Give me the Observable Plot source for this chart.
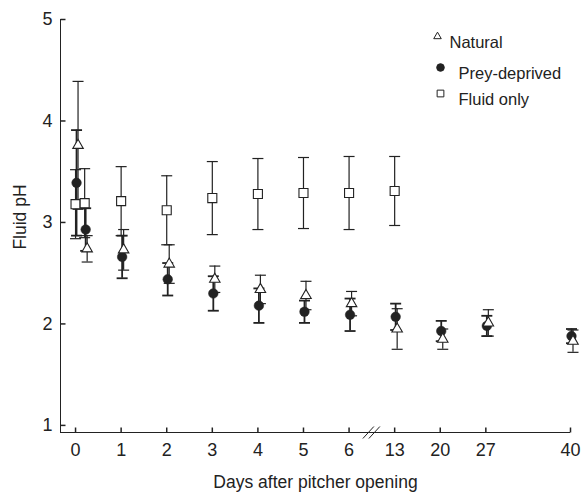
<!DOCTYPE html>
<html>
<head>
<meta charset="utf-8">
<script src="https://cdn.jsdelivr.net/npm/d3@7"></script>
<script src="https://cdn.jsdelivr.net/npm/@observablehq/plot@0.6"></script>
<style>
  html, body { margin: 0; padding: 0; background: #fff; }
  #chart { width: 583px; height: 498px; }
</style>
</head>
<body>
<div id="chart"></div>
<script>
// ---- data ----
const days = [0, 0.2, 1, 2, 3, 4, 5, 6, 13, 20, 27, 40];
const naturalMean = [3.76, 2.74, 2.73, 2.59, 2.44, 2.34, 2.28, 2.20, 1.95, 1.85, 2.01, 1.83];
const naturalErr  = [0.63, 0.13, 0.20, 0.19, 0.13, 0.14, 0.14, 0.12, 0.20, 0.10, 0.13, 0.11];
const preyMean    = [3.39, 2.93, 2.66, 2.44, 2.30, 2.18, 2.12, 2.09, 2.07, 1.93, 1.98, 1.88];
const preyErr     = [0.52, 0.21, 0.21, 0.16, 0.17, 0.17, 0.11, 0.16, 0.13, 0.10, 0.10, 0.07];
const fluidMean   = [3.18, 3.19, 3.21, 3.12, 3.24, 3.28, 3.29, 3.29, 3.31, null, null, null];
const fluidErr    = [0.34, 0.34, 0.34, 0.34, 0.36, 0.35, 0.35, 0.36, 0.34, null, null, null];
const seriesNames = ["Natural", "Prey-deprived", "Fluid only"];
const xTickDays = [0, 1, 2, 3, 4, 5, 6, 13, 20, 27, 40];
const yTicks = [1, 2, 3, 4, 5];
const axisTitleX = "Days after pitcher opening";
const axisTitleY = "Fluid pH";

// broken axis: days 0–6 one unit each, after the break one unit per week
const slot = d => d <= 6 ? d : 7 + (d - 13) / 7;
const breakSlot = (slot(6) + slot(13)) / 2;
const yMin = 0.93, yMax = 5;
const xMin = -0.33, xMax = slot(40);

const INK = "#222";

function rowsFor(mean, err) {
  return days.map((d, i) => ({day: d, s: slot(d), m: mean[i], lo: mean[i] == null ? null : mean[i] - err[i], hi: mean[i] == null ? null : mean[i] + err[i]}))
             .filter(r => r.m != null);
}
const natural = rowsFor(naturalMean, naturalErr);
const prey = rowsFor(preyMean, preyErr);
const fluid = rowsFor(fluidMean, fluidErr);

// custom symbols
const capSym = {draw(ctx) { ctx.moveTo(-5.5, 0); ctx.lineTo(5.5, 0); }};
const tickUp = {draw(ctx) { ctx.moveTo(0, 0); ctx.lineTo(0, -5); }};
const tickRight = {draw(ctx) { ctx.moveTo(0, 0); ctx.lineTo(5, 0); }};
const breakSym = {draw(ctx) { ctx.moveTo(-9, 6); ctx.lineTo(2, -6); ctx.moveTo(-3, 6); ctx.lineTo(8, -6); }};

function errorMarks(rows, dx, sw) {
  return [
    Plot.ruleX(rows, {x: "s", y1: "lo", y2: "hi", dx, stroke: INK, strokeWidth: sw}),
    Plot.dot(rows, {x: "s", y: "lo", dx, symbol: capSym, stroke: INK, strokeWidth: sw, fill: "none"}),
    Plot.dot(rows, {x: "s", y: "hi", dx, symbol: capSym, stroke: INK, strokeWidth: sw, fill: "none"})
  ];
}

const legendSyms = [
  {symbol: "triangle", r: 2.8, fill: "white", dxS: 377, dxT: 389, dy: 17},
  {symbol: "circle", r: 3.8, fill: INK, dxS: 380, dxT: 398, dy: 48},
  {symbol: "square", r: 3.8, fill: "white", dxS: 380, dxT: 398, dy: 74}
];
const legendMarks = seriesNames.flatMap((name, i) => {
  const L = legendSyms[i];
  return [
    Plot.dot([name], {frameAnchor: "top-left", dx: L.dxS, dy: L.dy, symbol: L.symbol, r: L.r, fill: L.fill, stroke: INK, strokeWidth: 1}),
    Plot.text([name], {frameAnchor: "top-left", dx: L.dxT, dy: L.dy, text: d => d, textAnchor: "start", fontSize: 16.5, fill: INK})
  ];
});

const chart = Plot.plot({
  width: 583,
  height: 498,
  marginLeft: 60,
  marginRight: 13,
  marginTop: 19,
  marginBottom: 66,
  x: {domain: [xMin, xMax], axis: null},
  y: {domain: [yMin, yMax], axis: null},
  style: {fontFamily: "'Liberation Sans', Arial, Helvetica, sans-serif", fontSize: "16px", color: INK, background: "white"},
  marks: [
    // axes
    Plot.ruleY([yMin], {stroke: INK, strokeWidth: 1}),
    Plot.ruleX([xMin], {stroke: INK, strokeWidth: 1}),
    Plot.dot(xTickDays, {x: d => slot(d), frameAnchor: "bottom", symbol: tickUp, stroke: INK, fill: "none"}),
    Plot.dot(yTicks, {y: d => d, frameAnchor: "left", symbol: tickRight, stroke: INK, fill: "none"}),
    Plot.text(xTickDays, {x: d => slot(d), text: d => String(d), frameAnchor: "bottom", dy: 23, fontSize: 18, fill: INK}),
    Plot.text(yTicks, {y: d => d, text: d => String(d), frameAnchor: "left", dx: -8, textAnchor: "end", fontSize: 18, fill: INK}),
    Plot.dot([breakSlot], {x: d => d, frameAnchor: "bottom", symbol: breakSym, stroke: INK, fill: "none", strokeWidth: 1}),
    Plot.text([axisTitleX], {frameAnchor: "bottom", dy: 55, text: d => d, fontSize: 17.5, fill: INK}),
    Plot.text([axisTitleY], {frameAnchor: "left", dx: -40, dy: -9, rotate: -90, textAnchor: "middle", text: d => d, fontSize: 17.5, fill: INK}),
    // error bars
    ...errorMarks(fluid, 0, 1.2),
    ...errorMarks(natural, 2.5, 1.2),
    ...errorMarks(prey, 1, 1.8),
    // points
    Plot.dot(prey, {x: "s", y: "m", dx: 1, symbol: "circle", r: 4.8, fill: INK, stroke: INK, strokeWidth: 0.5}),
    Plot.dot(natural, {x: "s", y: "m", dx: 2.5, symbol: "triangle", r: 3.9, fill: "white", stroke: INK, strokeWidth: 1.1}),
    Plot.dot(fluid, {x: "s", y: "m", dx: 0, symbol: "square", r: 5.1, fill: "white", stroke: INK, strokeWidth: 1.1}),
    // legend
    ...legendMarks
  ]
});
document.getElementById("chart").appendChild(chart);
</script>
</body>
</html>
